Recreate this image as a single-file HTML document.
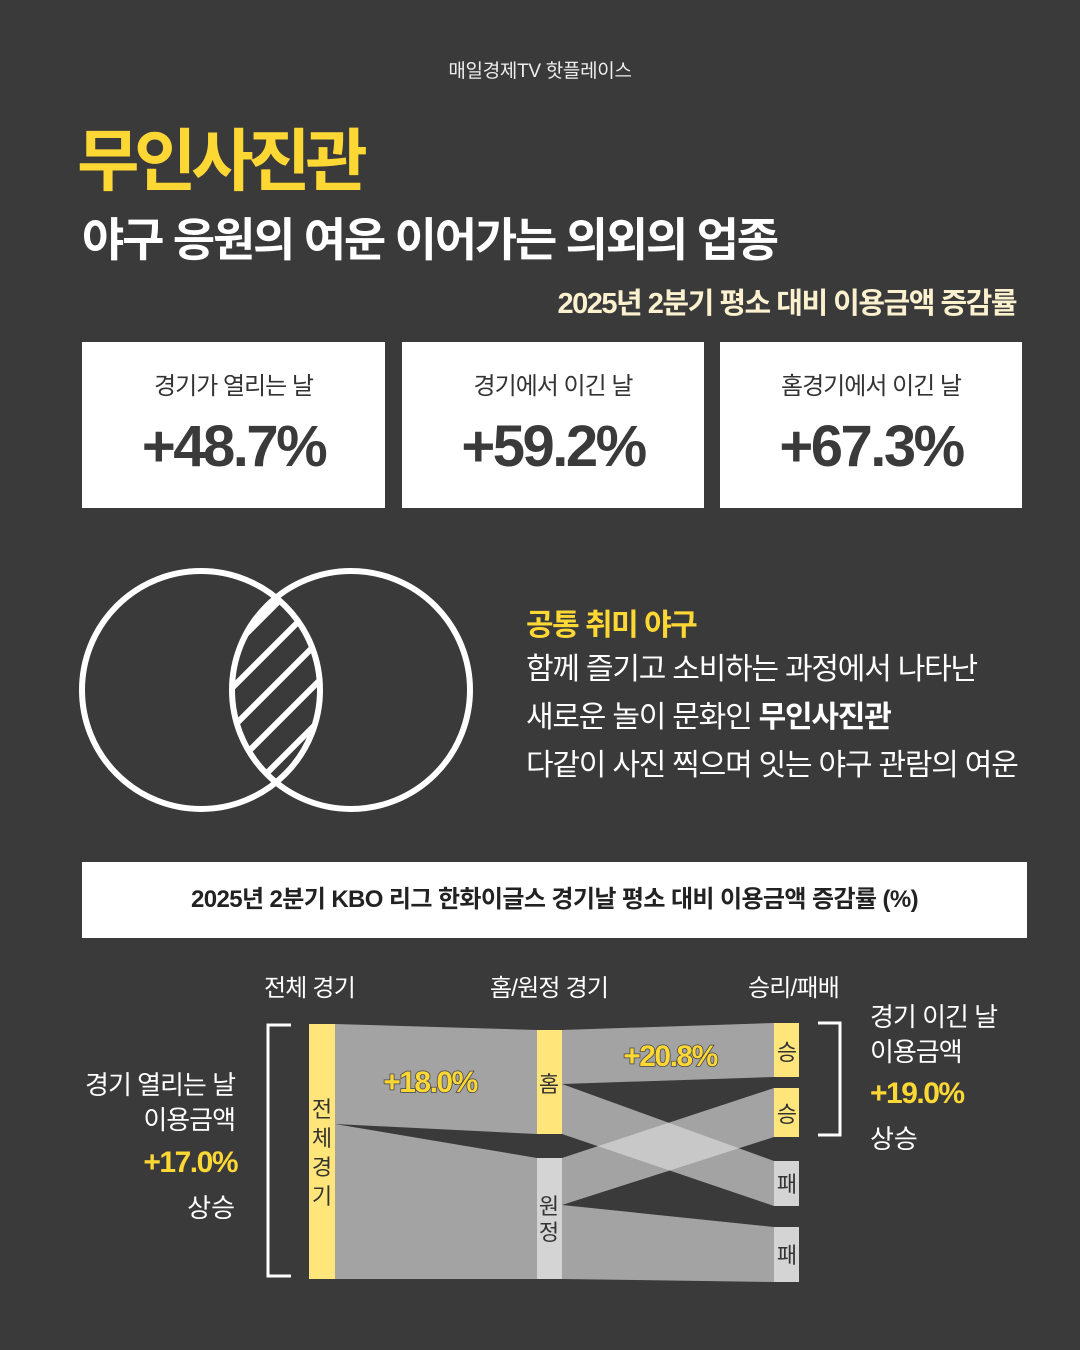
<!DOCTYPE html>
<html><head><meta charset="utf-8"><style>
*{margin:0;padding:0;box-sizing:border-box}
body{width:1080px;height:1350px;background:#3a3a3a;position:relative;overflow:hidden;font-family:"Liberation Sans","Noto Sans CJK KR",sans-serif;color:#fff}
.a{position:absolute;white-space:nowrap}
.card{position:absolute;top:342px;height:166px;background:#fff;color:#333;text-align:center}
.card .l{font-size:24px;margin-top:24px;letter-spacing:-1px}
.card .v{font-size:58px;font-weight:bold;margin-top:12px;letter-spacing:-2.5px;color:#3a3a3a}
</style></head><body>
<div class="a" style="left:0;width:1080px;text-align:center;top:56px;font-size:19px;color:#eee;letter-spacing:-0.3px">매일경제TV 핫플레이스</div>
<div class="a" style="left:77px;top:106px;font-size:68px;font-weight:bold;color:#fdd835;letter-spacing:-5.5px">무인사진관</div>
<div class="a" style="left:82px;top:204px;font-size:46px;font-weight:bold;color:#fff;letter-spacing:-2.2px">야구 응원의 여운 이어가는 의외의 업종</div>
<div class="a" style="right:64px;top:280px;font-size:29px;font-weight:bold;color:#fbf1cf;letter-spacing:-1.5px">2025년 2분기 평소 대비 이용금액 증감률</div>
<div class="card" style="left:82px;width:303px"><div class="l">경기가 열리는 날</div><div class="v">+48.7%</div></div>
<div class="card" style="left:402px;width:302px"><div class="l">경기에서 이긴 날</div><div class="v">+59.2%</div></div>
<div class="card" style="left:720px;width:302px"><div class="l">홈경기에서 이긴 날</div><div class="v">+67.3%</div></div>
<svg class="a" style="left:0;top:0" width="1080" height="1350">
<defs><clipPath id="lens"><circle cx="201" cy="690" r="119"/></clipPath>
<clipPath id="lens2"><circle cx="350" cy="690" r="119"/></clipPath></defs>
<g clip-path="url(#lens)"><g clip-path="url(#lens2)" stroke="#fff" stroke-width="6">
<line x1="180" y1="660" x2="340" y2="500"/>
<line x1="180" y1="700" x2="340" y2="540"/>
<line x1="180" y1="740" x2="340" y2="580"/>
<line x1="180" y1="780" x2="340" y2="620"/>
<line x1="180" y1="820" x2="340" y2="660"/>
<line x1="180" y1="860" x2="340" y2="700"/>
</g></g>
<circle cx="201" cy="690" r="119" fill="none" stroke="#fff" stroke-width="6"/>
<circle cx="351" cy="690" r="119" fill="none" stroke="#fff" stroke-width="6"/>
<g fill="rgb(220,220,220)" fill-opacity="0.65">
<polygon points="335,1024 537,1030 537,1134 335,1124"/>
<polygon points="335,1124 537,1158 537,1279 335,1279"/>
<polygon points="562,1030 774,1023 774,1077 562,1084"/>
<polygon points="562,1084 774,1161 774,1206 562,1134"/>
<polygon points="562,1158 774,1088 774,1137 562,1205"/>
<polygon points="562,1205 774,1227 774,1282 562,1279"/>
</g>
<rect x="309" y="1024" width="26" height="255" fill="#ffe57a"/>
<rect x="537" y="1030" width="25" height="104" fill="#ffe57a"/>
<rect x="537" y="1158" width="25" height="121" fill="#d4d4d4"/>
<rect x="774" y="1023" width="25" height="54" fill="#ffe57a"/>
<rect x="774" y="1088" width="25" height="49" fill="#ffe57a"/>
<rect x="774" y="1161" width="25" height="45" fill="#d4d4d4"/>
<rect x="774" y="1227" width="25" height="55" fill="#d4d4d4"/>
<polyline points="291,1025 268,1025 268,1276 291,1276" fill="none" stroke="#fff" stroke-width="3"/>
<polyline points="818,1023 840,1023 840,1135 818,1135" fill="none" stroke="#fff" stroke-width="3"/>
<g font-family="Liberation Sans,Noto Sans CJK KR,sans-serif" fill="#333" font-size="22" text-anchor="middle">
<text x="322" y="1117">전</text><text x="322" y="1146">체</text><text x="322" y="1175">경</text><text x="322" y="1204">기</text>
<text x="549" y="1092">홈</text>
<text x="549" y="1214">원</text><text x="549" y="1240">정</text>
<text x="787" y="1060">승</text><text x="787" y="1122">승</text>
<text x="787" y="1192">패</text><text x="787" y="1263">패</text>
</g>
<g font-family="Liberation Sans,Noto Sans CJK KR,sans-serif" font-weight="bold" font-size="30" fill="#fdd835" stroke="#444" stroke-width="1.5" paint-order="stroke" letter-spacing="-1.5" text-anchor="middle">
<text x="430" y="1092">+18.0%</text><text x="670" y="1066">+20.8%</text>
</g>
</svg>
<div class="a" style="left:526px;top:600px;font-size:30px;font-weight:bold;color:#fdd835;letter-spacing:-1.5px">공통 취미 야구</div>
<div class="a" style="left:526px;top:646px;font-size:30px;color:#fff;letter-spacing:-1.2px;line-height:48px">함께 즐기고 소비하는 과정에서 나타난<br>새로운 놀이 문화인 <b>무인사진관</b><br>다같이 사진 찍으며 잇는 야구 관람의 여운</div>
<div class="a" style="left:82px;top:862px;width:945px;height:76px;background:#fff;color:#222;font-size:24px;font-weight:bold;text-align:center;line-height:76px;letter-spacing:-0.6px">2025년 2분기 KBO 리그 한화이글스 경기날 평소 대비 이용금액 증감률 (%)</div>
<div class="a" style="left:264px;top:968px;font-size:24px;letter-spacing:-0.8px">전체 경기</div>
<div class="a" style="left:490px;top:968px;font-size:24px;letter-spacing:-0.8px">홈/원정 경기</div>
<div class="a" style="left:748px;top:968px;font-size:24px;letter-spacing:-0.8px">승리/패배</div>
<div class="a" style="right:845px;top:1068px;font-size:26px;text-align:right;line-height:35px;letter-spacing:-1px">경기 열리는 날<br>이용금액</div>
<div class="a" style="right:843px;top:1146px;font-size:30px;font-weight:bold;color:#fdd835;letter-spacing:-1.5px">+17.0%</div>
<div class="a" style="right:845px;top:1188px;font-size:26px">상승</div>
<div class="a" style="left:870px;top:1000px;font-size:26px;line-height:35px;letter-spacing:-1px">경기 이긴 날<br>이용금액</div>
<div class="a" style="left:870px;top:1077px;font-size:30px;font-weight:bold;color:#fdd835;letter-spacing:-1.5px">+19.0%</div>
<div class="a" style="left:870px;top:1119px;font-size:26px">상승</div>
</body></html>
